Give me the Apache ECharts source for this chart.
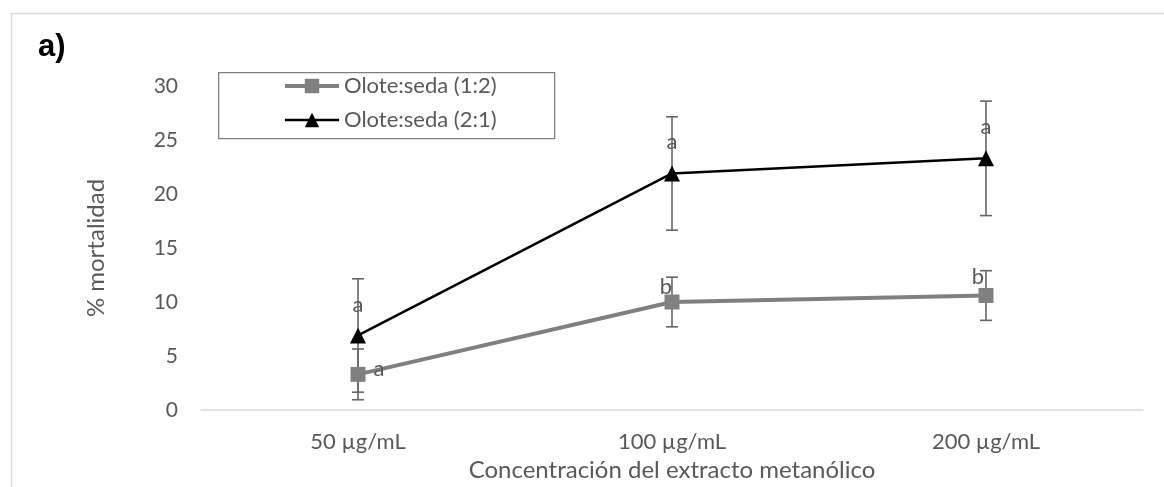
<!DOCTYPE html>
<html><head><meta charset="utf-8">
<script src="https://cdn.jsdelivr.net/npm/echarts@6/dist/echarts.min.js"></script>
<style>html,body{margin:0;padding:0;background:#fff}#c{width:1164px;height:487px}</style>
</head><body><div id="c"></div>
<script>
const categories = ['50 µg/mL', '100 µg/mL', '200 µg/mL'];
const seriesNames = ['Olote:seda (1:2)', 'Olote:seda (2:1)'];
const values12 = [3.3, 10.0, 10.6];
const errors12 = [2.35, 2.3, 2.3];
const letters12 = ['a', 'b', 'b'];
const values21 = [6.9, 21.9, 23.3];
const errors21 = [5.25, 5.25, 5.3];
const letters21 = ['a', 'a', 'a'];
const yTicks = [0, 5, 10, 15, 20, 25, 30];

const FONT = 'Lato';
const TXT = '#595959';

function errData(vals, errs) {
  return vals.map((v, i) => [i, v - errs[i], v + errs[i]]);
}
function errSeries(vals, errs, z) {
  return {
    type: 'custom', z: z, silent: true,
    data: errData(vals, errs),
    renderItem: function (params, api) {
      const lo = api.coord([api.value(0), api.value(1)]);
      const hi = api.coord([api.value(0), api.value(2)]);
      const w = 6;
      const st = { stroke: '#666666', lineWidth: 1.6 };
      return { type: 'group', children: [
        { type: 'line', shape: { x1: lo[0], y1: lo[1], x2: hi[0], y2: hi[1] }, style: st },
        { type: 'line', shape: { x1: lo[0] - w, y1: lo[1], x2: lo[0] + w, y2: lo[1] }, style: st },
        { type: 'line', shape: { x1: hi[0] - w, y1: hi[1], x2: hi[0] + w, y2: hi[1] }, style: st }
      ]};
    }
  };
}
// label offsets (layout only)
const offs12 = [[21, -5], [-6, -15], [-8, -19]];
const offs21 = [[0, -31], [0, -32], [0, -31]];
function labeledData(vals, letters, offs) {
  return vals.map((v, i) => ({
    value: v,
    label: { show: true, formatter: letters[i], position: 'inside', offset: offs[i],
      color: TXT, fontFamily: FONT, fontSize: 22 }
  }));
}

const chart = echarts.init(document.getElementById('c'));
chart.setOption({
  animation: false,
  backgroundColor: '#fff',
  grid: { left: 201, right: 21, top: 86, bottom: 77 },
  legend: {
    orient: 'vertical', left: 283, top: 75,
    padding: 0,
    itemGap: 12, itemWidth: 54, itemHeight: 18,
    textStyle: { color: TXT, fontFamily: FONT, fontSize: 22, lineHeight: 18 },
    data: [
      { name: seriesNames[0], lineStyle: { width: 4, color: '#808080' }, itemStyle: { color: '#808080' } },
      { name: seriesNames[1], lineStyle: { width: 2.5, color: '#000' }, itemStyle: { color: '#000' } }
    ]
  },
  xAxis: {
    type: 'category', data: categories, boundaryGap: true,
    axisLine: { lineStyle: { color: '#d9d9d9', width: 1.5 } },
    axisTick: { show: false },
    axisLabel: { color: TXT, fontFamily: FONT, fontSize: 22, margin: 21 },
    name: 'Concentración del extracto metanólico', nameLocation: 'middle', nameGap: 47,
    nameTextStyle: { color: TXT, fontFamily: FONT, fontSize: 24 }
  },
  yAxis: {
    type: 'value', min: 0, max: 30, interval: 5,
    axisLine: { show: false }, axisTick: { show: false }, splitLine: { show: false },
    axisLabel: { color: TXT, fontFamily: FONT, fontSize: 21, margin: 23,
      formatter: v => yTicks.includes(v) ? String(v) : '' },
    name: '% mortalidad', nameLocation: 'middle', nameGap: 93, nameRotate: 90,
    nameTextStyle: { color: TXT, fontFamily: FONT, fontSize: 24 }
  },
  graphic: [
    { type: 'rect', left: 9, top: 11, shape: { width: 1200, height: 500 },
      style: { fill: 'none', stroke: '#d9d9d9', lineWidth: 1.5 }, silent: true, z: -1 },
    { type: 'rect', left: 218, top: 72, shape: { width: 336, height: 66 },
      style: { fill: '#fff', stroke: '#7f7f7f', lineWidth: 1.3 }, silent: true, z: 0 },
    { type: 'text', left: 38, top: 32, style: { text: 'a)', font: 'bold 31px "Liberation Sans"', fill: '#000' } }
  ],
  series: [
    errSeries(values12, errors12, 1),
    errSeries(values21, errors21, 1),
    {
      name: seriesNames[0], type: 'line', z: 3,
      data: labeledData(values12, letters12, offs12),
      symbol: 'rect', symbolSize: 15,
      lineStyle: { color: '#808080', width: 4 },
      itemStyle: { color: '#808080' }
    },
    {
      name: seriesNames[1], type: 'line', z: 4,
      data: labeledData(values21, letters21, offs21),
      symbol: 'triangle', symbolSize: 16,
      lineStyle: { color: '#000', width: 2.5 },
      itemStyle: { color: '#000' }
    }
  ]
});
</script></body></html>
